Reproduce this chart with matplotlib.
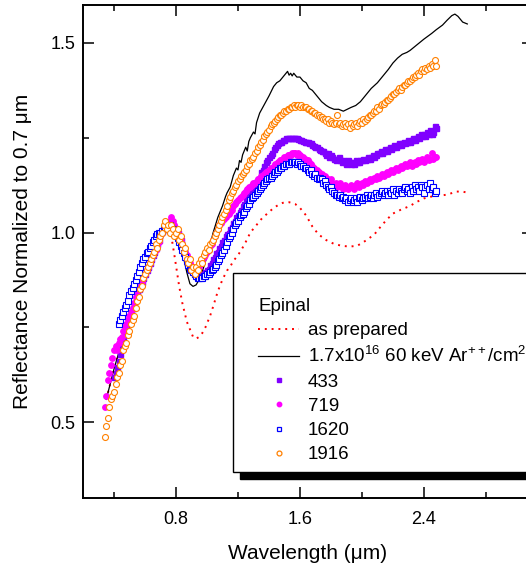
import numpy as np
import matplotlib
matplotlib.use("Agg")
import matplotlib.pyplot as plt
from matplotlib.patches import Rectangle
from matplotlib.lines import Line2D
from matplotlib.ticker import MultipleLocator

plt.rcParams['font.family'] = ['Liberation Sans', 'DejaVu Sans']
plt.rcParams['mathtext.fontset'] = 'custom'
plt.rcParams['mathtext.rm'] = 'Liberation Sans'
plt.rcParams['mathtext.it'] = 'Liberation Sans:italic'

nan = np.nan

# wavelength grid of the measured spectra (um)
wl = [0.34, 0.35, 0.36, 0.37, 0.38, 0.39, 0.40, 0.41, 0.42, 0.43,
      0.44, 0.45, 0.46, 0.47, 0.48, 0.49, 0.50, 0.51, 0.52, 0.53,
      0.54, 0.55, 0.56, 0.57, 0.58, 0.59, 0.60, 0.61, 0.62, 0.63,
      0.64, 0.65, 0.66, 0.67, 0.68, 0.69, 0.70, 0.71, 0.72, 0.73,
      0.74, 0.75, 0.76, 0.77, 0.78, 0.79, 0.80, 0.81, 0.82, 0.83,
      0.84, 0.85, 0.86, 0.87, 0.88, 0.89, 0.90, 0.91, 0.92, 0.93,
      0.94, 0.95, 0.96, 0.97, 0.98, 0.99, 1.00, 1.01, 1.02, 1.03,
      1.04, 1.05, 1.06, 1.07, 1.08, 1.09, 1.10, 1.11, 1.12, 1.13,
      1.14, 1.15, 1.16, 1.17, 1.18, 1.19, 1.20, 1.21, 1.22, 1.23,
      1.24, 1.25, 1.26, 1.27, 1.28, 1.29, 1.30, 1.31, 1.32, 1.33,
      1.34, 1.35, 1.36, 1.37, 1.38, 1.39, 1.40, 1.41, 1.42, 1.43,
      1.44, 1.45, 1.46, 1.47, 1.48, 1.49, 1.50, 1.51, 1.52, 1.53,
      1.54, 1.55, 1.56, 1.57, 1.58, 1.59, 1.60, 1.61, 1.62, 1.63,
      1.64, 1.65, 1.66, 1.67, 1.68, 1.69, 1.70, 1.71, 1.72, 1.73,
      1.74, 1.75, 1.76, 1.77, 1.78, 1.79, 1.80, 1.81, 1.82, 1.83,
      1.84, 1.85, 1.86, 1.87, 1.88, 1.89, 1.90, 1.91, 1.92, 1.93,
      1.94, 1.95, 1.96, 1.97, 1.98, 1.99, 2.00, 2.01, 2.02, 2.03,
      2.04, 2.05, 2.06, 2.07, 2.08, 2.09, 2.10, 2.11, 2.12, 2.13,
      2.14, 2.15, 2.16, 2.17, 2.18, 2.19, 2.20, 2.21, 2.22, 2.23,
      2.24, 2.25, 2.26, 2.27, 2.28, 2.29, 2.30, 2.31, 2.32, 2.33,
      2.34, 2.35, 2.36, 2.37, 2.38, 2.39, 2.40, 2.41, 2.42, 2.43,
      2.44, 2.45, 2.46, 2.47, 2.48]

r433 = [nan, nan, nan, nan, nan, nan, 0.62, 0.63, 0.645, 0.66,
        0.68, 0.70, 0.72, 0.735, 0.75, 0.765, 0.78, 0.79, 0.80, 0.815,
        0.83, 0.84, 0.85, 0.86, 0.87, 0.88, 0.89, 0.90, 0.91, 0.92,
        0.93, 0.94, 0.95, 0.96, 0.97, 0.98, 1.00, 1.005, 1.01, 1.015,
        1.02, 1.02, 1.025, 1.02, 1.02, 1.015, 1.01, 1.00, 0.99, 0.98,
        0.965, 0.955, 0.94, 0.93, 0.92, 0.91, 0.90, 0.895, 0.89, 0.885,
        0.885, 0.885, 0.885, 0.89, 0.89, 0.895, 0.90, 0.905, 0.915, 0.92,
        0.93, 0.935, 0.945, 0.95, 0.96, 0.965, 0.975, 0.98, 0.99, 0.995,
        1.00, 1.01, 1.015, 1.025, 1.03, 1.04, 1.045, 1.055, 1.06, 1.07,
        1.075, 1.085, 1.09, 1.10, 1.105, 1.115, 1.12, 1.13, 1.135, 1.14,
        1.145, 1.16, 1.165, 1.175, 1.185, 1.19, 1.20, 1.205, 1.21, 1.22,
        1.225, 1.23, 1.235, 1.24, 1.24, 1.245, 1.245, 1.25, 1.25, 1.25,
        1.25, 1.25, 1.25, 1.25, 1.248, 1.247, 1.245, 1.245, 1.242, 1.24,
        1.24, 1.238, 1.235, 1.235, 1.23, 1.228, 1.225, 1.225, 1.22, 1.218,
        1.215, 1.215, 1.21, 1.205, 1.21, 1.20, 1.205, 1.20, 1.195, 1.19,
        1.195, 1.20, 1.19, 1.185, 1.19, 1.185, 1.18, 1.19, 1.185, 1.18,
        1.185, 1.18, 1.19, 1.185, 1.185, 1.19, 1.19, 1.195, 1.19, 1.195,
        1.20, 1.195, 1.20, 1.205, 1.20, 1.205, 1.21, 1.21, 1.215, 1.21,
        1.215, 1.22, 1.215, 1.22, 1.225, 1.22, 1.225, 1.23, 1.225, 1.23,
        1.235, 1.23, 1.235, 1.24, 1.235, 1.24, 1.245, 1.24, 1.245, 1.25,
        1.245, 1.25, 1.255, 1.25, 1.26, 1.255, 1.26, 1.255, 1.265, 1.26,
        1.27, 1.26, 1.265, 1.28, 1.275]

r719 = [0.54, 0.57, 0.61, 0.63, 0.65, 0.67, 0.69, 0.70, 0.69, 0.71,
        0.72, 0.725, 0.74, 0.75, 0.76, 0.77, 0.78, 0.79, 0.80, 0.815,
        0.83, 0.845, 0.85, 0.86, 0.87, 0.88, 0.89, 0.90, 0.91, 0.92,
        0.93, 0.94, 0.95, 0.955, 0.965, 0.975, 0.99, 1.00, 1.01, 1.015,
        1.02, 1.025, 1.03, 1.04, 1.03, 1.02, 1.01, 1.00, 0.99, 0.98,
        0.97, 0.96, 0.95, 0.94, 0.93, 0.92, 0.91, 0.905, 0.90, 0.90,
        0.905, 0.91, 0.92, 0.925, 0.935, 0.94, 0.95, 0.955, 0.965, 0.97,
        0.98, 0.99, 1.00, 1.01, 1.02, 1.025, 1.03, 1.035, 1.04, 1.045,
        1.05, 1.055, 1.06, 1.07, 1.075, 1.08, 1.085, 1.09, 1.095, 1.10,
        1.105, 1.11, 1.115, 1.12, 1.12, 1.125, 1.13, 1.13, 1.135, 1.14,
        1.145, 1.15, 1.15, 1.155, 1.16, 1.16, 1.165, 1.17, 1.17, 1.175,
        1.18, 1.18, 1.185, 1.19, 1.19, 1.195, 1.20, 1.20, 1.205, 1.205,
        1.205, 1.21, 1.21, 1.21, 1.205, 1.21, 1.205, 1.20, 1.20, 1.195,
        1.19, 1.19, 1.185, 1.18, 1.175, 1.17, 1.165, 1.165, 1.16, 1.155,
        1.155, 1.15, 1.15, 1.145, 1.14, 1.135, 1.14, 1.13, 1.125, 1.13,
        1.12, 1.125, 1.13, 1.12, 1.115, 1.125, 1.12, 1.115, 1.12, 1.125,
        1.12, 1.115, 1.125, 1.13, 1.12, 1.125, 1.13, 1.125, 1.135, 1.13,
        1.135, 1.14, 1.135, 1.14, 1.145, 1.14, 1.15, 1.145, 1.15, 1.155,
        1.15, 1.155, 1.16, 1.155, 1.16, 1.165, 1.16, 1.165, 1.17, 1.165,
        1.17, 1.175, 1.17, 1.175, 1.18, 1.175, 1.18, 1.185, 1.175, 1.18,
        1.185, 1.18, 1.19, 1.185, 1.19, 1.195, 1.185, 1.19, 1.20, 1.19,
        1.195, 1.21, 1.195, 1.20, 1.20]

r1620 = [nan, nan, nan, nan, nan, nan, nan, nan, nan, 0.76,
         0.77, 0.78, 0.79, 0.80, 0.81, 0.82, 0.835, 0.845, 0.855, 0.865,
         0.875, 0.885, 0.895, 0.91, 0.92, 0.93, 0.935, 0.945, 0.95, 0.96,
         0.965, 0.975, 0.98, 0.99, 0.995, 1.00, 1.00, 1.005, 1.01, 1.015,
         1.02, 1.02, 1.02, 1.015, 1.01, 1.00, 0.995, 0.985, 0.975, 0.965,
         0.955, 0.945, 0.935, 0.925, 0.915, 0.905, 0.90, 0.895, 0.89, 0.885,
         0.88, 0.88, 0.88, 0.88, 0.885, 0.885, 0.89, 0.89, 0.895, 0.90,
         0.905, 0.91, 0.915, 0.925, 0.93, 0.94, 0.945, 0.955, 0.965, 0.975,
         0.985, 0.99, 1.00, 1.01, 1.02, 1.025, 1.03, 1.04, 1.045, 1.05,
         1.055, 1.065, 1.07, 1.075, 1.085, 1.09, 1.095, 1.10, 1.105, 1.11,
         1.115, 1.12, 1.125, 1.13, 1.135, 1.14, 1.145, 1.145, 1.15, 1.155,
         1.16, 1.16, 1.165, 1.17, 1.17, 1.175, 1.175, 1.18, 1.18, 1.18,
         1.185, 1.185, 1.185, 1.185, 1.18, 1.185, 1.18, 1.175, 1.175, 1.17,
         1.17, 1.165, 1.16, 1.165, 1.155, 1.15, 1.155, 1.145, 1.14, 1.145,
         1.14, 1.13, 1.135, 1.125, 1.12, 1.115, 1.12, 1.11, 1.105, 1.10,
         1.10, 1.095, 1.10, 1.09, 1.095, 1.085, 1.09, 1.08, 1.085, 1.09,
         1.08, 1.085, 1.09, 1.08, 1.09, 1.095, 1.085, 1.09, 1.095, 1.10,
         1.09, 1.095, 1.10, 1.09, 1.10, 1.105, 1.095, 1.10, 1.105, 1.11,
         1.10, 1.105, 1.11, 1.10, 1.11, 1.105, 1.115, 1.10, 1.11, 1.105,
         1.115, 1.11, 1.105, 1.115, 1.12, 1.11, 1.115, 1.105, 1.12, 1.11,
         1.125, 1.115, 1.12, 1.11, 1.125, 1.12, 1.105, 1.12, 1.125, 1.115,
         1.13, 1.115, 1.12, 1.105, 1.11]

r1916 = [0.46, 0.49, 0.51, 0.54, 0.56, 0.57, 0.58, 0.60, 0.62, 0.63,
         0.65, 0.66, 0.69, 0.70, 0.71, 0.73, 0.74, 0.76, 0.77, 0.78,
         0.80, 0.82, 0.83, 0.85, 0.86, 0.88, 0.89, 0.90, 0.91, 0.92,
         0.93, 0.94, 0.95, 0.97, 0.96, 0.98, 0.99, 1.00, 1.02, 1.03,
         1.01, 1.02, 1.00, 1.02, 1.01, 0.99, 1.00, 1.01, 0.98, 0.99,
         0.97, 0.95, 0.96, 0.93, 0.92, 0.93, 0.90, 0.91, 0.89, 0.91,
         0.90, 0.92, 0.93, 0.92, 0.94, 0.95, 0.96, 0.955, 0.97, 0.975,
         0.98, 0.99, 1.00, 1.01, 1.02, 1.03, 1.04, 1.05, 1.06, 1.07,
         1.085, 1.095, 1.105, 1.11, 1.12, 1.125, 1.135, 1.14, 1.15, 1.155,
         1.16, 1.165, 1.175, 1.18, 1.19, 1.195, 1.20, 1.21, 1.215, 1.225,
         1.23, 1.24, 1.245, 1.255, 1.26, 1.265, 1.27, 1.28, 1.285, 1.29,
         1.295, 1.30, 1.305, 1.31, 1.31, 1.315, 1.32, 1.32, 1.325, 1.325,
         1.33, 1.33, 1.335, 1.33, 1.335, 1.335, 1.33, 1.335, 1.33, 1.33,
         1.33, 1.325, 1.325, 1.32, 1.32, 1.315, 1.315, 1.31, 1.31, 1.305,
         1.305, 1.30, 1.30, 1.295, 1.30, 1.29, 1.295, 1.29, 1.285, 1.29,
         1.31, 1.285, 1.29, 1.28, 1.285, 1.29, 1.28, 1.285, 1.275, 1.29,
         1.28, 1.285, 1.29, 1.28, 1.29, 1.295, 1.29, 1.30, 1.295, 1.30,
         1.305, 1.31, 1.31, 1.315, 1.32, 1.32, 1.33, 1.325, 1.335, 1.34,
         1.34, 1.345, 1.35, 1.35, 1.355, 1.36, 1.365, 1.365, 1.37, 1.375,
         1.38, 1.375, 1.385, 1.39, 1.39, 1.395, 1.40, 1.40, 1.405, 1.41,
         1.41, 1.415, 1.42, 1.415, 1.425, 1.43, 1.425, 1.435, 1.43, 1.44,
         1.435, 1.445, 1.44, 1.455, 1.44]

# irradiated (1.7e16 Ar++) spectrum
wl_irr = [0.35, 0.40, 0.45, 0.50, 0.55, 0.60, 0.65, 0.70, 0.75, 0.80,
          0.84, 0.87, 0.89, 0.91, 0.93, 0.955, 0.98, 1.01, 1.04, 1.07,
          1.10, 1.12, 1.13, 1.15, 1.16, 1.17, 1.19, 1.20, 1.21, 1.22,
          1.23, 1.25, 1.26, 1.27, 1.28, 1.30, 1.31, 1.32, 1.34, 1.36,
          1.38, 1.40, 1.43, 1.45, 1.47, 1.49, 1.50, 1.51, 1.52, 1.53,
          1.54, 1.55, 1.56, 1.58, 1.60, 1.62, 1.64, 1.66, 1.68, 1.71,
          1.74, 1.77, 1.79, 1.82, 1.85, 1.88, 1.90, 1.93, 1.96, 1.99,
          2.02, 2.06, 2.10, 2.14, 2.17, 2.20, 2.23, 2.26, 2.29, 2.31,
          2.34, 2.37, 2.40, 2.42, 2.45, 2.48, 2.52, 2.55, 2.58, 2.60,
          2.62, 2.65, 2.68]
r_irr = [0.56, 0.64, 0.71, 0.78, 0.84, 0.89, 0.94, 1.00, 1.02, 1.00,
         0.95, 0.895, 0.865, 0.858, 0.862, 0.88, 0.91, 0.95, 1.00, 1.04,
         1.07, 1.095, 1.105, 1.12, 1.135, 1.15, 1.17, 1.165, 1.19, 1.185,
         1.205, 1.225, 1.215, 1.24, 1.25, 1.265, 1.26, 1.29, 1.315, 1.33,
         1.345, 1.36, 1.385, 1.395, 1.40, 1.41, 1.415, 1.42, 1.425, 1.415,
         1.42, 1.413, 1.42, 1.41, 1.41, 1.40, 1.395, 1.38, 1.375, 1.36,
         1.345, 1.335, 1.33, 1.325, 1.325, 1.32, 1.324, 1.33, 1.335, 1.345,
         1.36, 1.38, 1.395, 1.415, 1.43, 1.447, 1.46, 1.47, 1.475, 1.48,
         1.49, 1.50, 1.51, 1.516, 1.525, 1.535, 1.547, 1.56, 1.572, 1.576,
         1.57, 1.555, 1.55]

# as prepared spectrum
wl_prep = [0.35, 0.40, 0.45, 0.50, 0.55, 0.60, 0.65, 0.70, 0.74, 0.77,
           0.79, 0.82, 0.84, 0.87, 0.89, 0.91, 0.93, 0.95, 0.97, 0.99,
           1.02, 1.04, 1.07, 1.10, 1.13, 1.15, 1.17, 1.20, 1.23, 1.25,
           1.28, 1.32, 1.36, 1.39, 1.43, 1.47, 1.50, 1.53, 1.57, 1.60,
           1.64, 1.68, 1.72, 1.77, 1.82, 1.87, 1.92, 1.97, 2.03, 2.08,
           2.12, 2.16, 2.20, 2.25, 2.31, 2.35, 2.40, 2.45, 2.50, 2.55,
           2.61, 2.65, 2.68]
r_prep = [0.56, 0.64, 0.71, 0.78, 0.84, 0.89, 0.94, 1.00, 1.01, 0.99,
          0.94, 0.86, 0.816, 0.765, 0.745, 0.725, 0.72, 0.725, 0.735, 0.75,
          0.78, 0.805, 0.845, 0.876, 0.90, 0.91, 0.925, 0.94, 0.96, 0.975,
          1.00, 1.02, 1.04, 1.05, 1.065, 1.075, 1.08, 1.08, 1.075, 1.065,
          1.045, 1.016, 0.995, 0.98, 0.97, 0.965, 0.963, 0.965, 0.98, 0.995,
          1.015, 1.034, 1.05, 1.06, 1.07, 1.08, 1.09, 1.095, 1.097, 1.10,
          1.108, 1.108, 1.105]

legend_title = "Epinal"
labels = ["as prepared", "1.7x10$^{16}$ 60 keV Ar$^{++}$/cm$^2$", "433", "719", "1620", "1916"]
xticks_major = [0.8, 1.6, 2.4]
yticks_major = [0.5, 1.0, 1.5]

c433 = "#8000ff"
c719 = "#ff00ff"
c1620 = "#0000ff"
c1916 = "#ff8000"

fig = plt.figure(figsize=(5.26, 5.68), dpi=100)
W, H = 526, 568
ax = fig.add_axes([83 / W, 1 - 498 / H, 450 / W, 493 / H])

dots = (0, (1, 2.5))
ax.plot(wl_prep, r_prep, color="red", ls=dots, lw=1.4, zorder=2)
ax.plot(wl_irr, r_irr, color="black", lw=0.9, zorder=2)
ax.plot(wl, r433, ls="none", marker="s", ms=3.6, color=c433, mec=c433, zorder=3)
ax.plot(wl, r719, ls="none", marker="o", ms=3.9, color=c719, mec=c719, zorder=3)
ax.plot(wl, r1620, ls="none", marker="s", ms=3.7, mfc="white", mec=c1620, mew=0.8, zorder=4)
ax.plot(wl, r1916, ls="none", marker="o", ms=4.3, mfc="white", mec=c1916, mew=0.8, zorder=5)

ax.set_xlim(0.2, 3.104)
ax.set_ylim(0.3, 1.6)
ax.set_xticks(xticks_major)
ax.set_yticks(yticks_major)
ax.xaxis.set_minor_locator(MultipleLocator(0.4))
ax.yaxis.set_minor_locator(MultipleLocator(0.25))
ax.tick_params(which="both", direction="in", top=True, right=True, width=1.1, labelsize=13)
ax.tick_params(which="major", length=8)
ax.tick_params(which="minor", length=4.5)
ax.tick_params(axis="x", pad=9)
ax.tick_params(axis="y", pad=5.5)
for s in ax.spines.values():
    s.set_linewidth(1.4)

ax.set_xlabel("Wavelength (μm)", fontsize=15, labelpad=12)
ax.set_ylabel("Reflectance Normalized to 0.7 μm", fontsize=15, labelpad=13)

# legend frame with solid black shadow
bx0, by0 = (233 - 83) / 450, (498 - 472) / 493
bw, bh = 1.2, (472 - 273) / 493
ax.add_patch(Rectangle((bx0 + 7 / 450, by0 - 7 / 493), bw, bh, transform=ax.transAxes,
                       facecolor="black", edgecolor="black", clip_on=False, zorder=8))
ax.add_patch(Rectangle((bx0, by0), bw, bh, transform=ax.transAxes,
                       facecolor="white", edgecolor="black", lw=1.0, clip_on=False, zorder=9))

handles = [
    Line2D([], [], color="red", ls=dots, lw=1.4),
    Line2D([], [], color="black", lw=0.9),
    Line2D([], [], ls="none", marker="s", ms=3.0, color=c433),
    Line2D([], [], ls="none", marker="o", ms=3.2, color=c719),
    Line2D([], [], ls="none", marker="s", ms=3.2, mfc="white", mec=c1620, mew=0.9),
    Line2D([], [], ls="none", marker="o", ms=3.5, mfc="white", mec=c1916, mew=0.9),
]
leg = ax.legend(handles, labels, title=legend_title, loc="upper left",
                bbox_to_anchor=((258 - 83) / 450, (498 - 298) / 493),
                frameon=False, fontsize=13.5, title_fontsize=13.5,
                handlelength=2.2, handletextpad=0.45, labelspacing=0.38,
                borderaxespad=0, borderpad=0)
leg._legend_box.align = "left"
leg.set_zorder(10)

fig.savefig("out.png", dpi=100)
